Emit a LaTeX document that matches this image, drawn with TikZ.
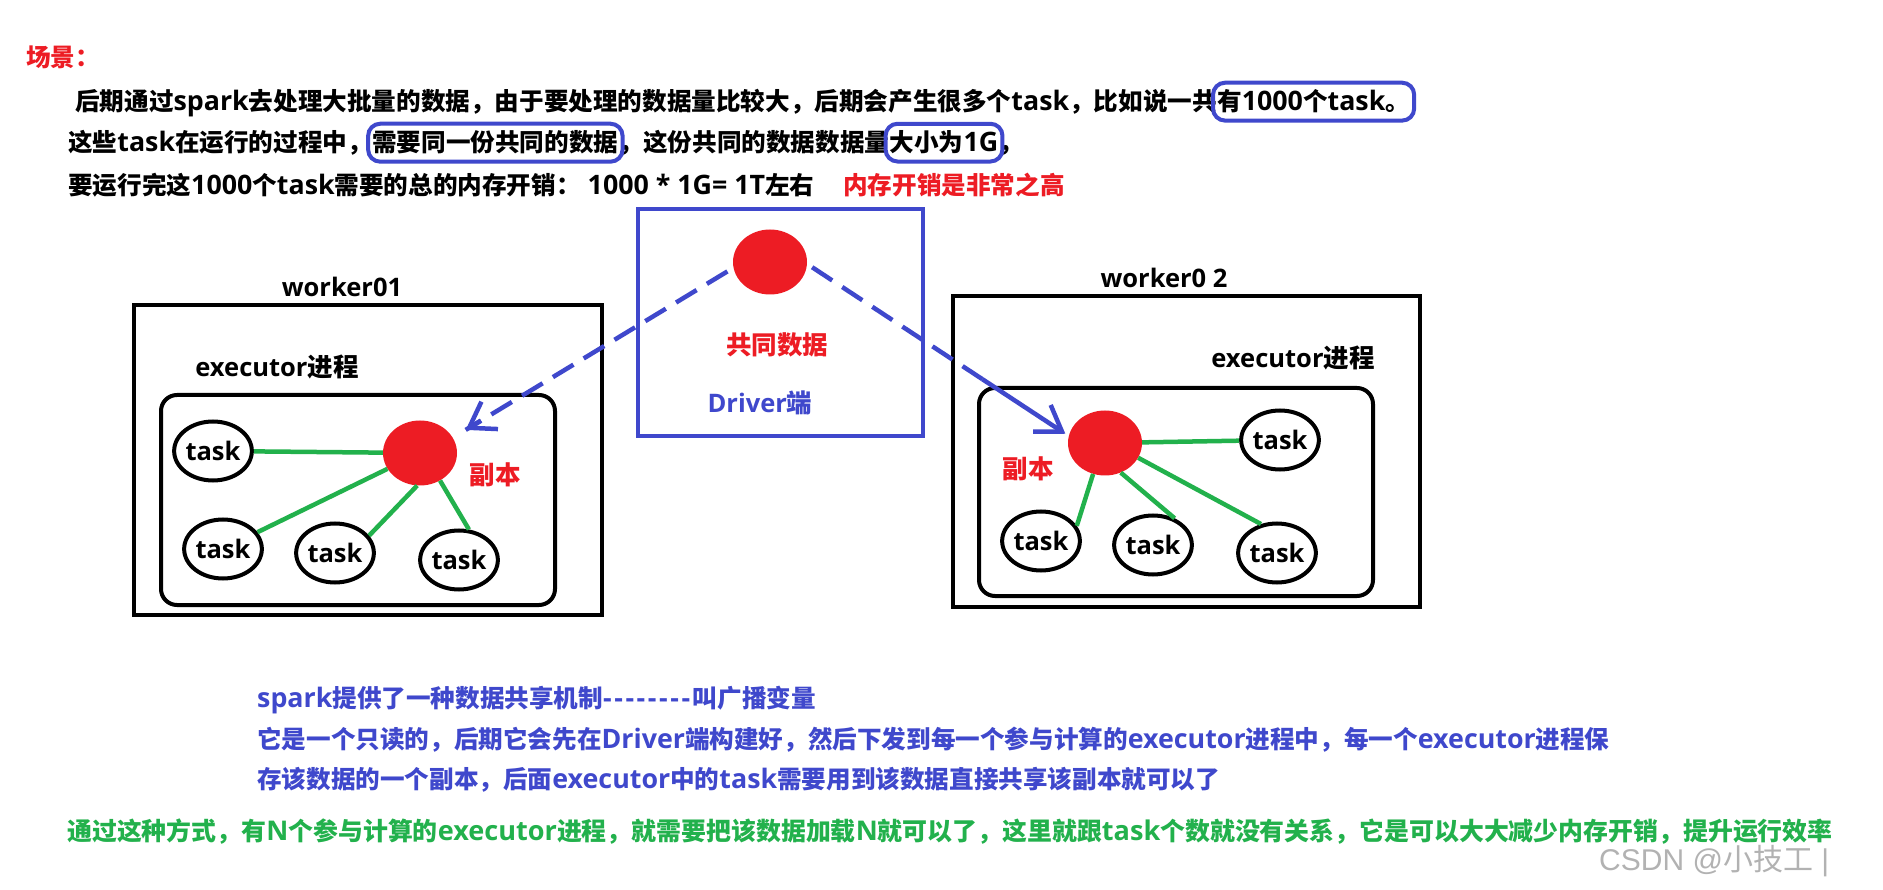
\documentclass[tikz,border=0pt]{standalone}
\usepackage{fontspec}
\setmainfont{Noto Sans CJK SC}
\newfontfamily\E{Open Sans}[Ligatures=TeXOff]
\newfontfamily\W{Liberation Sans}
\usetikzlibrary{shapes.geometric,arrows.meta,fit,calc}
\newcommand\en[1]{{\E\bfseries\fontsize{26.8}{30}\selectfont #1}}
\newcommand\eng[1]{{\E\bfseries\fontsize{27.1}{30}\selectfont #1}}
\definecolor{pred}{HTML}{ED1C24}
\definecolor{pblue}{HTML}{3F48CC}
\definecolor{pgreen}{HTML}{22B14C}
\tikzset{
  txt/.style={inner sep=0pt, anchor=base west, font=\fontsize{24.6}{30}\selectfont\bfseries},
  lbl/.style={inner sep=0pt, font=\fontsize{25.5}{30}\selectfont\bfseries},
  hbox/.style={draw=pblue, line width=4pt, rounded corners=12pt, inner xsep=4pt, inner ysep=7pt},
  wbox/.style={draw=black, line width=4pt, inner sep=0pt},
  ebox/.style={draw=black, line width=4pt, rounded corners=16pt, inner sep=0pt},
  taskn/.style={ellipse, draw=black, line width=4pt, minimum width=76pt, minimum height=59pt, inner sep=0pt, font=\fontsize{25.5}{30}\selectfont\bfseries\E},
  rep/.style={ellipse, fill=pred, minimum width=74pt, minimum height=65pt, inner sep=0pt},
  gl/.style={draw=pgreen, line width=4.5pt},
  dl/.style={draw=pblue, line width=4.5pt, dash pattern=on 24pt off 12pt},
  al/.style={draw=pblue, line width=4.5pt, -{Straight Barb[length=24pt,width=32pt]}}
}
\begin{document}
\begin{tikzpicture}[x=1pt,y=-1pt]
\useasboundingbox (0,0) rectangle (1883,890);
\fill[white] (0,0) rectangle (1883,890);

% ---- top text ----
\node[txt, text=pred] (scene) at (26,67) {场景：};
\node[txt] (l1a) at (75,111) {后期通过\en{spark}去处理大批量的数据，由于要处理的数据量比较大，后期会产生很多个\en{task}，比如说一共};
\node[txt] (l1b) at (l1a.base east) {有\en{1000}个\en{task}。};
\node[hbox, fit=(l1b)] (hb1) {};

\node[txt] (l2a) at (68,152) {这些\en{task}在运行的过程中，};
\node[txt] (l2b) at (l2a.base east) {需要同一份共同的数据};
\node[txt] (l2c) at (l2b.base east) {，这份共同的数据数据量};
\node[txt] (l2d) at (l2c.base east) {大小为\en{1G}};
\node[txt] (l2e) at (l2d.base east) {，};
\node[hbox, fit=(l2b)] (hb2) {};
\node[hbox, fit=(l2d)] (hb3) {};

\node[txt] (l3a) at (68,195) {要运行完这\en{1000}个\en{task}需要的总的内存开销：\en{ 1000 * 1G= 1T}左右};
\node[txt, text=pred] (l3b) at (843,195) {内存开销是非常之高};

% ---- driver ----
\node[draw=pblue, line width=4.5pt, inner sep=0pt, minimum width=285pt, minimum height=227pt] (drvbox) at (780.5,322.5) {};
\node[rep] (drv) at (770,262) {};
\node[lbl, text=pred] (drvt) at (777,345) {共同数据};
\node[lbl, text=pblue] (drvl) at (760,403) {{\E Driver}端};

% ---- worker01 ----
\node[lbl] (w1l) at (342,287) {{\E worker01}};
\node[wbox, minimum width=468pt, minimum height=310pt] (w1) at (368,460) {};
\node[lbl] (x1l) at (277,367) {{\E executor}进程};
\node[ebox, minimum width=394pt, minimum height=210pt] (x1) at (358,500) {};
\node[rep] (repL) at (420,453) {};
\node[lbl, text=pred] (repLt) at (495,475) {副本};
\node[taskn] (tL1) at (213,451) {task};
\node[taskn] (tL2) at (223,549) {task};
\node[taskn] (tL3) at (335,553) {task};
\node[taskn] (tL4) at (459,560) {task};
\draw[gl] (tL1) -- (repL);
\draw[gl] (tL2) -- (repL);
\draw[gl] (tL3.27) -- (repL.265);
\draw[gl] (tL4.72) -- (repL.306);

% ---- worker02 ----
\node[lbl] (w2l) at (1164,278) {{\E worker0 2}};
\node[wbox, minimum width=467pt, minimum height=311pt] (w2) at (1186.5,451.5) {};
\node[lbl] (x2l) at (1293,358) {{\E executor}进程};
\node[ebox, minimum width=394pt, minimum height=208pt] (x2) at (1176,492) {};
\node[rep] (repR) at (1105,443) {};
\node[lbl, text=pred] (repRt) at (1028,469) {副本};
\node[taskn] (tR1) at (1280,440) {task};
\node[taskn] (tR2) at (1041,541) {task};
\node[taskn] (tR3) at (1153,545) {task};
\node[taskn] (tR4) at (1277,553) {task};
\draw[gl] (repR) -- (tR1);
\draw[gl] (repR.249) -- (tR2.23);
\draw[gl] (repR.298) -- (tR3.51);
\draw[gl] (repR.336) -- (tR4.119);

% ---- broadcast arrows ----
\draw[dl, shorten <=7pt, shorten >=15pt] (drv.189) -- (repL.25);
\draw[al, shorten >=15pt] ($(drv.189)!0.9!(repL.25)$) -- (repL.25);
\draw[dl, shorten <=6pt] (drv.-3) -- ($(drv.-3)!0.67!(repR.169)$);
\draw[al, shorten >=4pt] ($(drv.-3)!0.67!(repR.169)$) -- (repR.169);

% ---- bottom text ----
\node[txt, text=pblue] (b1) at (257,707) {\en{spark}提供了一种数据共享机制\en{-\kern2.6pt-\kern2.6pt-\kern2.6pt-\kern2.6pt-\kern2.6pt-\kern2.6pt-\kern2.6pt-\kern2.6pt}叫广播变量};
\node[txt, text=pblue] (b2) at (257,748) {它是一个只读的，后期它会先在\en{Driver}端构建好，然后下发到每一个参与计算的\en{executor}进程中，每一个\en{executor}进程保};
\node[txt, text=pblue] (b3) at (257,788) {存该数据的一个副本，后面\en{executor}中的\en{task}需要用到该数据直接共享该副本就可以了};
\node[txt, text=pgreen, font=\fontsize{24.9}{30}\selectfont\bfseries] (g1) at (67,840) {通过这种方式，有\eng{N}个参与计算的\eng{executor}进程，就需要把该数据加载\eng{N}就可以了，这里就跟\eng{task}个数就没有关系，它是可以大大减少内存开销，提升运行效率};

\node[inner sep=0pt, anchor=base west, text=black!30, font=\fontsize{30}{34}\selectfont] (wm) at (1599,870) {{\W CSDN @}小技工{\W\ |}};
\end{tikzpicture}
\end{document}
